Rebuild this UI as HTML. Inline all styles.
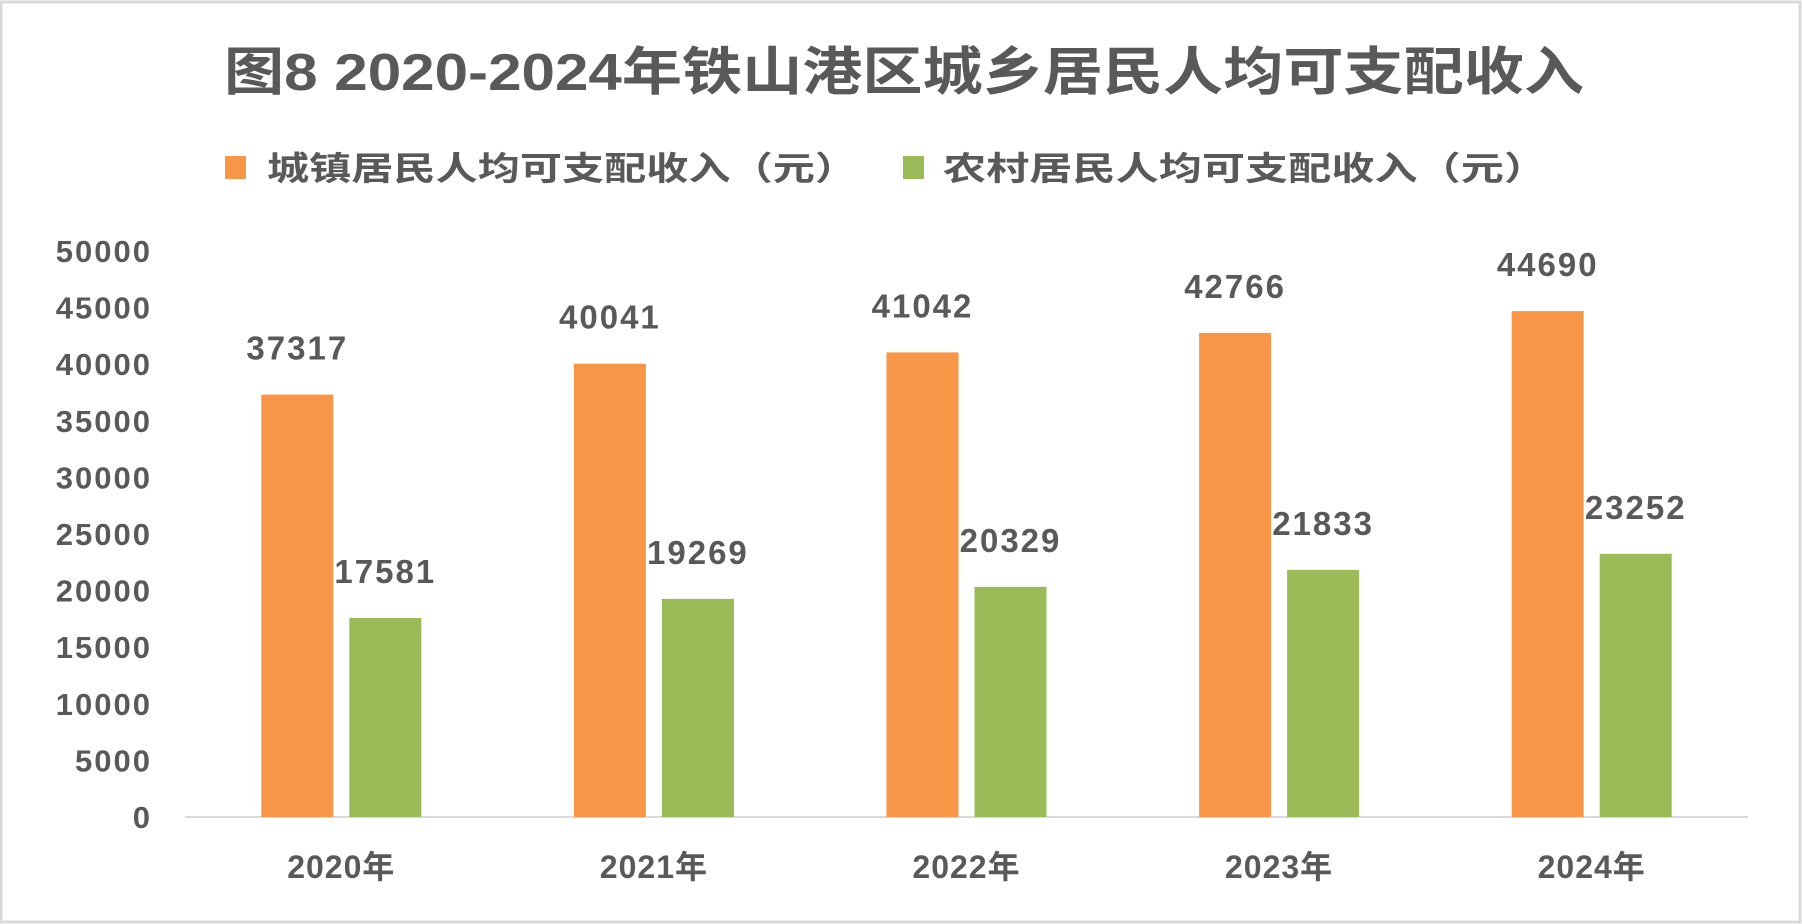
<!DOCTYPE html>
<html><head><meta charset="utf-8"><style>
html,body{margin:0;padding:0;background:#fff;}
svg{display:block;}
text{font-family:"Liberation Sans","Noto Sans CJK SC",sans-serif;fill:#595959;font-weight:bold;}
</style></head><body>
<svg id="chart" width="1802" height="924" viewBox="0 0 1802 924">
  <rect x="1" y="2" width="1799" height="920" fill="#fff" stroke="#d9d9d9" stroke-width="3"/>
  <text x="224" y="90" font-size="52" textLength="1360" lengthAdjust="spacingAndGlyphs">图8 2020-2024年铁山港区城乡居民人均可支配收入</text>
  <g>
    <rect x="225" y="156" width="21" height="23" fill="#F79646"/>
    <text x="267" y="180" font-size="33" textLength="590" lengthAdjust="spacingAndGlyphs">城镇居民人均可支配收入（元）</text>
    <rect x="903" y="156" width="21" height="23" fill="#9BBB59"/>
    <text x="943" y="180" font-size="33" textLength="604" lengthAdjust="spacingAndGlyphs">农村居民人均可支配收入（元）</text>
  </g>
  <g id="plot"></g>
</svg>
<script>
const categories = ["2020年","2021年","2022年","2023年","2024年"];
const urbanValues = [37317, 40041, 41042, 42766, 44690];
const ruralValues = [17581, 19269, 20329, 21833, 23252];
const yTicks = [0,5000,10000,15000,20000,25000,30000,35000,40000,45000,50000];

const NS = "http://www.w3.org/2000/svg";
const plot = document.getElementById("plot");
const x0 = 185, x1 = 1748, yBase = 817, yTop = 251, yMax = 50000;
const band = (x1 - x0) / categories.length;
const barW = 72, gap = 16;
function yScale(v){ return yBase - (v / yMax) * (yBase - yTop); }
function xCenter(i){ return x0 + band * (i + 0.5); }
function mk(tag, attrs){ const e = document.createElementNS(NS, tag); for (const k in attrs) e.setAttribute(k, attrs[k]); return e; }

yTicks.forEach(t => {
  const e = mk("text", {x: 152, y: yScale(t) + 11, "font-size": 31, "text-anchor": "end", "letter-spacing": 2});
  e.textContent = t;
  
  
  plot.appendChild(e);
});

const axis = mk("line", {x1: x0, x2: x1, y1: yBase, y2: yBase, stroke: "#d9d9d9", "stroke-width": 2});


plot.appendChild(axis);

function drawBar(i, v, left, color, name){
  const y = yScale(v);
  const r = mk("rect", {x: left, y: y, width: barW, height: yBase - y, fill: color});
  
  
  plot.appendChild(r);
  const t = mk("text", {x: left + barW / 2, y: y - 35, "font-size": 33, "text-anchor": "middle", "letter-spacing": 2});
  t.textContent = v;
  
  
  plot.appendChild(t);
}

categories.forEach((c, i) => {
  const cx = xCenter(i);
  drawBar(i, urbanValues[i], cx - gap / 2 - barW, "#F79646", 'bar-urban-' + c.slice(0,4));
  drawBar(i, ruralValues[i], cx + gap / 2, "#9BBB59", 'bar-rural-' + c.slice(0,4));
  const t = mk("text", {x: cx, y: 878, "font-size": 32, "text-anchor": "middle", "letter-spacing": 1});
  t.textContent = c;
  
  
  plot.appendChild(t);
});
</script>
</body></html>
